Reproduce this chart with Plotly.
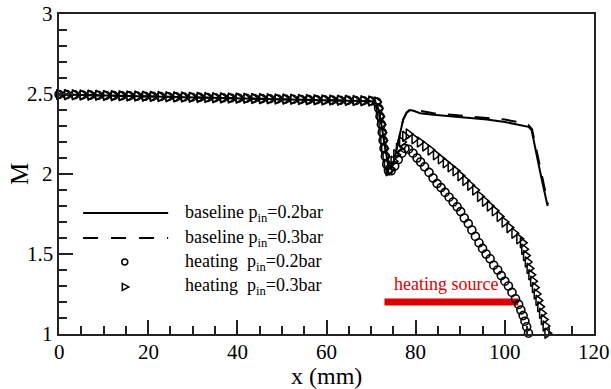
import plotly.graph_objects as go

# ---- data -----------------------------------------------------------------
# baseline, p_in = 0.2 bar (solid)
base02_x = [0, 10, 20, 30, 40, 50, 60, 66, 70, 71.2, 71.8, 72.3, 72.8, 73.3, 73.8,
            74.3, 74.9, 75.6, 76.4, 77.2, 78.0, 78.7, 79.5, 81, 84, 88, 92, 96, 100,
            103, 105.3, 106.0, 106.6, 107.2, 107.8, 108.4, 109.0, 109.6]
base02_m = [2.497, 2.491, 2.485, 2.479, 2.473, 2.467, 2.461, 2.458, 2.455, 2.44, 2.39,
            2.31, 2.22, 2.13, 2.06, 2.035, 2.06, 2.14, 2.25, 2.34, 2.385, 2.40, 2.395,
            2.38, 2.37, 2.36, 2.35, 2.34, 2.325, 2.31, 2.295, 2.275, 2.20, 2.12, 2.03,
            1.95, 1.87, 1.80]

# baseline, p_in = 0.3 bar (dashed)
base03_x = [0, 10, 20, 30, 40, 50, 60, 66, 70, 71.2, 71.8, 72.3, 72.8, 73.3, 73.8,
            74.3, 74.9, 75.6, 76.4, 77.2, 78.0, 78.9, 79.8, 81.5, 84, 88, 92, 96, 100,
            103, 105.3, 106.1, 106.7, 107.3, 107.9, 108.5, 109.1, 109.7]
base03_m = [2.497, 2.491, 2.485, 2.479, 2.473, 2.467, 2.461, 2.458, 2.455, 2.44, 2.39,
            2.31, 2.22, 2.13, 2.06, 2.035, 2.06, 2.14, 2.25, 2.34, 2.385, 2.405, 2.40,
            2.39, 2.38, 2.37, 2.36, 2.35, 2.34, 2.325, 2.305, 2.28, 2.20, 2.12, 2.03,
            1.95, 1.87, 1.81]

# heating cases share the upstream part of the channel
up_x = [0, 1.75, 3.5, 5.25, 7, 8.75, 10.5, 12.25, 14, 15.75, 17.5, 19.25, 21, 22.75,
        24.5, 26.25, 28, 29.75, 31.5, 33.25, 35, 36.75, 38.5, 40.25, 42, 43.75, 45.5,
        47.25, 49, 50.75, 52.5, 54.25, 56, 57.75, 59.5, 61.25, 63, 64.75, 66.5, 68.25,
        70, 71.3, 71.7, 72.0, 72.3, 72.5, 72.7, 72.9, 73.2, 73.5, 73.9]
up_m = [2.497, 2.496, 2.495, 2.494, 2.493, 2.492, 2.491, 2.490, 2.489, 2.488, 2.487,
        2.486, 2.485, 2.484, 2.483, 2.482, 2.481, 2.480, 2.479, 2.478, 2.477, 2.476,
        2.475, 2.474, 2.473, 2.472, 2.471, 2.470, 2.469, 2.468, 2.467, 2.466, 2.465,
        2.464, 2.463, 2.462, 2.461, 2.460, 2.459, 2.458, 2.456, 2.45, 2.41, 2.36, 2.31,
        2.26, 2.21, 2.16, 2.11, 2.06, 2.02]

# heating, p_in = 0.2 bar (circles), downstream of the expansion
heat02_x = [74.5, 75.3, 76.1, 76.9, 77.6, 78.4, 79.4, 80.3, 81.1, 82.0, 83.0, 83.9,
            84.8, 85.7, 86.6, 87.5, 88.4, 89.3, 90.1, 90.9, 91.8, 92.6, 93.4, 94.2,
            95.0, 95.8, 96.7, 97.5, 98.4, 99.2, 100.0, 100.8, 101.6, 102.4, 103.1,
            103.6, 104.1, 104.5, 104.9, 105.3]
heat02_m = [2.02, 2.05, 2.09, 2.13, 2.16, 2.155, 2.13, 2.10, 2.075, 2.045, 2.01, 1.975,
            1.94, 1.915, 1.885, 1.855, 1.825, 1.795, 1.765, 1.725, 1.69, 1.65, 1.61,
            1.57, 1.535, 1.50, 1.47, 1.43, 1.40, 1.365, 1.33, 1.30, 1.26, 1.22, 1.185,
            1.15, 1.115, 1.08, 1.045, 1.005]

# heating, p_in = 0.3 bar (triangles), downstream of the expansion
heat03_x = [74.4, 75.0, 75.6, 76.2, 76.9, 77.6, 78.4, 79.7, 80.9, 82.1, 83.3, 84.5,
            85.6, 86.7, 87.8, 88.9, 90.0, 91.1, 92.2, 93.3, 94.4, 95.5, 96.6, 97.7,
            98.8, 99.9, 101.0, 102.1, 103.2, 104.0, 104.3, 104.7, 105.1, 105.5, 105.9,
            106.3, 106.7, 107.1, 107.5, 107.9, 108.3, 108.7, 109.1, 109.5]
heat03_m = [2.03, 2.08, 2.12, 2.16, 2.20, 2.235, 2.25, 2.22, 2.20, 2.175, 2.15, 2.12,
            2.095, 2.07, 2.045, 2.02, 1.99, 1.96, 1.93, 1.90, 1.86, 1.83, 1.80, 1.77,
            1.735, 1.70, 1.665, 1.63, 1.595, 1.57, 1.53, 1.49, 1.45, 1.41, 1.37, 1.33,
            1.29, 1.25, 1.21, 1.17, 1.13, 1.09, 1.05, 1.005]

# heating source extent
source_x = [73, 103]
source_m = [1.2, 1.2]

x_ticks = [0, 20, 40, 60, 80, 100, 120]
x_ticktext = ["0", "20", "40", "60", "80", "100", "120"]
y_ticks = [1, 1.5, 2, 2.5, 3]
y_ticktext = ["1", "1.5", "2", "2.5", "3"]

legend_labels = ["baseline p<sub>in</sub>=0.2bar", "baseline p<sub>in</sub>=0.3bar",
                 "heating  p<sub>in</sub>=0.2bar", "heating  p<sub>in</sub>=0.3bar"]

# ---- figure ---------------------------------------------------------------
FONT = "Liberation Serif"
INK = "#222222"
RED = "#dd0000"

fig = go.Figure()

fig.add_trace(go.Scatter(x=base02_x, y=base02_m, mode="lines",
                         line=dict(color="black", width=2), cliponaxis=False))
fig.add_trace(go.Scatter(x=base03_x, y=base03_m, mode="lines",
                         line=dict(color="black", width=2, dash="15px,12px"),
                         cliponaxis=False))
fig.add_trace(go.Scatter(x=source_x, y=source_m, mode="lines",
                         line=dict(color=RED, width=7)))
fig.add_trace(go.Scatter(x=up_x + heat02_x, y=up_m + heat02_m, mode="markers",
                         marker=dict(symbol="circle-open", size=8, color="black",
                                     line=dict(width=1.6, color="black")),
                         cliponaxis=False))
fig.add_trace(go.Scatter(x=up_x + heat03_x, y=up_m + heat03_m, mode="markers",
                         marker=dict(symbol="triangle-right-open", size=9, color="black",
                                     line=dict(width=1.5, color="black")),
                         cliponaxis=False))

fig.add_annotation(x=sum(source_x) / 2, y=source_m[0] + 0.11, xref="x", yref="y",
                   text="heating source", showarrow=False, xshift=-5,
                   font=dict(family=FONT, size=18, color=RED))

# tick labels set in the serif face
for v, t in zip(x_ticks, x_ticktext):
    fig.add_annotation(x=v, y=0, xref="x", yref="paper", text=t, showarrow=False,
                       xanchor="center", yanchor="top", yshift=-4,
                       font=dict(family=FONT, size=21, color="black"))
for v, t in zip(y_ticks, y_ticktext):
    fig.add_annotation(x=0, y=v, xref="paper", yref="y", text=t, showarrow=False,
                       xanchor="right", yanchor="middle", xshift=-4,
                       font=dict(family=FONT, size=21, color="black"))

# axis titles
fig.add_annotation(x=0.5, y=0, xref="paper", yref="paper", text="x (mm)",
                   showarrow=False, xanchor="center", yanchor="middle", yshift=-42,
                   font=dict(family=FONT, size=24, color="black"))
fig.add_annotation(x=0, y=0.5, xref="paper", yref="paper", text="M", textangle=-90,
                   showarrow=False, xanchor="center", yanchor="middle", xshift=-40,
                   font=dict(family=FONT, size=25, color="black"))

# hand-drawn legend inside the axes
rows_y = [0.378, 0.300, 0.225, 0.147]
line_x0, line_x1, mark_x, text_x = 0.045, 0.204, 0.123, 0.232
shapes = [
    dict(type="line", xref="paper", yref="paper", x0=line_x0, x1=line_x1,
         y0=rows_y[0], y1=rows_y[0], line=dict(color="black", width=2)),
    dict(type="line", xref="paper", yref="paper", x0=line_x0, x1=line_x1,
         y0=rows_y[1], y1=rows_y[1], line=dict(color="black", width=2, dash="15px,13px")),
    dict(type="circle", xref="paper", yref="paper", xsizemode="pixel", ysizemode="pixel",
         xanchor=mark_x, yanchor=rows_y[2], x0=-3, x1=3, y0=-3, y1=3,
         line=dict(color="black", width=1.5)),
    dict(type="path", xref="paper", yref="paper", xsizemode="pixel", ysizemode="pixel",
         xanchor=mark_x, yanchor=rows_y[3], path="M-2.5,-3.5 L4,0 L-2.5,3.5 Z",
         line=dict(color="black", width=1.5)),
]
for label, ry in zip(legend_labels, rows_y):
    fig.add_annotation(x=text_x, y=ry, xref="paper", yref="paper", text=label,
                       showarrow=False, xanchor="left", yanchor="middle",
                       font=dict(family=FONT, size=18, color="black"))

axis_common = dict(showline=True, linewidth=2, linecolor=INK, mirror=True,
                   ticks="inside", ticklen=14, tickwidth=1.5, tickcolor=INK,
                   showgrid=False, zeroline=False, automargin=False,
                   showticklabels=False)

fig.update_layout(
    width=611, height=389,
    margin=dict(l=59, r=17, t=14, b=55),
    paper_bgcolor="white", plot_bgcolor="white",
    font=dict(family=FONT, color="black"),
    showlegend=False,
    shapes=shapes,
    xaxis=dict(range=[0, 120], tickvals=x_ticks,
               minor=dict(ticks="inside", ticklen=8, tickwidth=1.5, tickcolor=INK,
                          tick0=0, dtick=5, showgrid=False),
               **axis_common),
    yaxis=dict(range=[1, 3], tickvals=y_ticks,
               minor=dict(ticks="inside", ticklen=8, tickwidth=1.5, tickcolor=INK,
                          tick0=1, dtick=0.1, showgrid=False),
               **axis_common),
)

fig.write_html("out.html")
